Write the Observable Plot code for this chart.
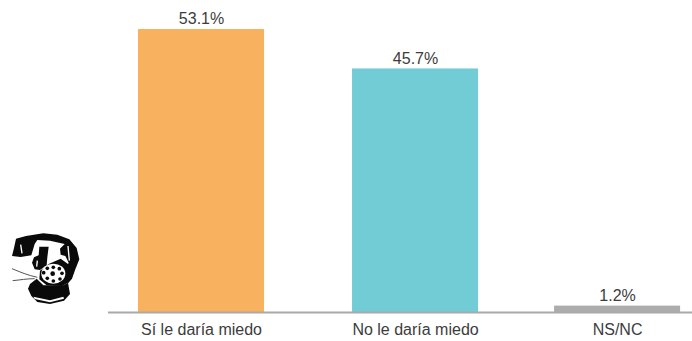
<!DOCTYPE html>
<html>
<head>
<meta charset="utf-8">
<style>
html,body{margin:0;padding:0;background:#fff;}
#wrap{position:relative;width:692px;height:341px;overflow:hidden;}
#phone{position:absolute;left:0;top:220px;}
</style>
<script src="https://cdn.jsdelivr.net/npm/d3@7"></script>
<script src="https://cdn.jsdelivr.net/npm/@observablehq/plot@0.6"></script>
</head>
<body>
<div id="wrap">
<svg id="phone" width="120" height="121" viewBox="0 0 360 363" aria-hidden="true">
  <g fill="#0a0a0a" stroke="none">
    <path d="M36 108 L42 84 L48 56 L78 48 L130 40 L172 44 L208 58 L230 84 L238 118 L226 148 L216 176 L204 190 L196 150 L206 128 L196 108 L182 104 L180 86 L194 72 L150 62 L112 60 L104 72 L94 106 L62 111 Z"/>
    <path d="M118 80 L146 80 L142 112 L140 136 L120 150 L104 148 L96 128 L102 112 L116 106 Z"/>
    <path d="M182 116 L204 132 L212 160 L204 188 L186 198 L140 196 L118 178 L120 152 L146 132 Z"/>
    <path d="M110 176 L130 196 L190 196 L204 188 L210 222 L192 242 L150 252 L112 246 L94 228 L84 206 L90 192 Z"/>
  </g>
  <g fill="#fff">
    <path d="M100 230 L150 241 L190 230 L192 236 L150 247 L104 237 Z"/>
    <ellipse cx="160" cy="161" rx="36" ry="30"/>
  </g>
  <g fill="#0a0a0a">
    <circle cx="160" cy="142" r="5.5"/><circle cx="142" cy="145" r="5.5"/><circle cx="131" cy="158" r="5.5"/>
    <circle cx="142" cy="175" r="5.5"/><circle cx="160" cy="183" r="5.5"/><circle cx="180" cy="177" r="5.5"/>
    <circle cx="186" cy="160" r="5.5"/><circle cx="178" cy="146" r="5.5"/>
    <circle cx="158" cy="161" r="7"/>
  </g>
  <g fill="none" stroke="#555" stroke-width="3">
    <path d="M36 146 C60 156 84 166 112 172"/>
    <path d="M38 182 C60 180 80 176 104 176"/>
  </g>
  <g fill="none" stroke="#fff" stroke-width="4">
    <path d="M62 74 L66 100"/><path d="M204 78 L208 122"/><path d="M112 122 L110 140"/>
  </g>
</svg>
</div>
<script>
const categories = ["Sí le daría miedo", "No le daría miedo", "NS/NC"];
const values = [53.1, 45.7, 1.2];
const valueLabels = ["53.1%", "45.7%", "1.2%"];
const colors = ["#f8b15e", "#72ccd5", "#acacac"];

// The reference's third column sits slightly closer to the second one.
const slots = [0, 1, 1.944];
const halfBar = 0.2944;

const rows = categories.map((category, i) => ({
  category, value: values[i], label: valueLabels[i], color: colors[i], slot: slots[i]
}));

const chart = Plot.plot({
  width: 692,
  height: 341,
  marginTop: 0,
  marginLeft: 108,
  marginRight: 0,
  marginBottom: 29,
  style: {fontFamily: "'Liberation Sans', Arial, sans-serif", background: "#fff"},
  x: {domain: [-0.4346, 2.294], axis: null},
  y: {domain: [0, 58.54], axis: null},
  marks: [
    Plot.rectY(rows, {
      x1: d => d.slot - halfBar,
      x2: d => d.slot + halfBar,
      y: "value",
      fill: "color"
    }),
    Plot.ruleY([0], {stroke: "#a9a9a9", strokeWidth: 2}),
    Plot.text(rows, {
      x: "slot",
      y: "value",
      text: "label",
      dy: -10.5,
      fontSize: 16,
      fill: "#3c3c3c"
    }),
    Plot.axisX({
      ticks: slots,
      tickSize: 0,
      tickPadding: 11,
      tickFormat: s => categories[slots.indexOf(s)],
      fontSize: 16,
      color: "#3c3c3c",
      label: null
    })
  ]
});
document.getElementById("wrap").appendChild(chart);
</script>
</body>
</html>
